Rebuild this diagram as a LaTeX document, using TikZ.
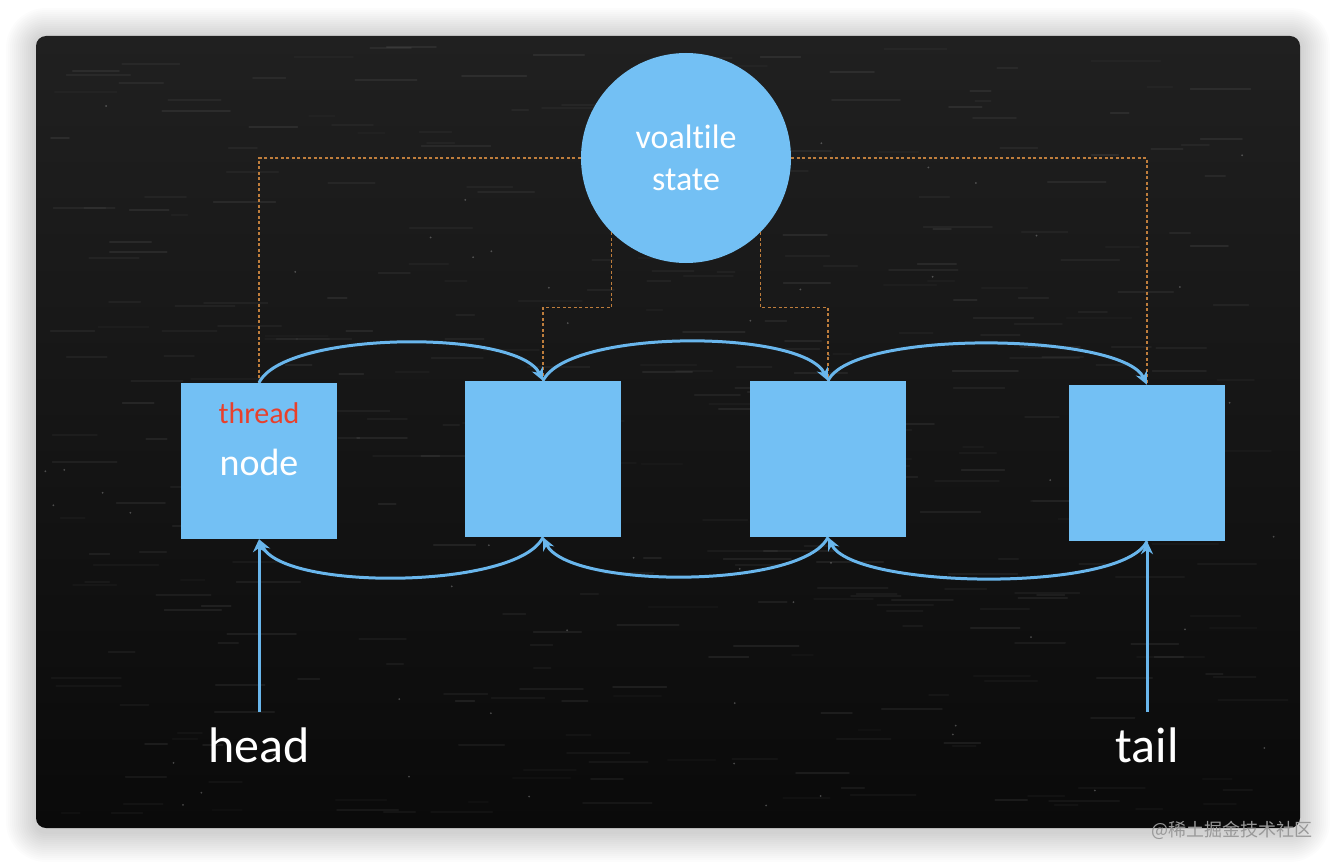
\documentclass[tikz,border=0pt]{standalone}
\usepackage{fontspec}
\setmainfont{Carlito}[Ligatures=NoCommon]
\newfontfamily\cjk{Noto Sans CJK SC}
\usetikzlibrary{arrows.meta}
\definecolor{boxblue}{RGB}{115,192,244}
\definecolor{lineblue}{RGB}{105,182,236}
\definecolor{dashor}{RGB}{190,125,60}
\definecolor{threadred}{RGB}{232,64,44}
\definecolor{paneltop}{RGB}{32,32,32}
\definecolor{panelbot}{RGB}{10,10,10}
\tikzset{
  blk/.style={rectangle, fill=boxblue, minimum width=156pt, minimum height=156pt, inner sep=0pt},
  arr/.style={draw=lineblue, line width=3pt, -{Stealth[length=13pt,width=12pt]}},
  dsh/.style={draw=dashor, line width=1.1pt, dash pattern=on 3pt off 2.5pt},
  lbl/.style={text=white, inner sep=0pt, anchor=base},
}
\begin{document}
\begin{tikzpicture}[x=1pt,y=-1pt]
\useasboundingbox (0,0) rectangle (1336,864);
\fill[white] (0,0) rectangle (1336,864);
% soft shadow
\foreach \i in {2,4,...,30}{
  \fill[black, opacity=0.01, rounded corners=10pt+\i pt] (36-\i,38-\i) rectangle (1300+\i,832+\i);
}
% panel
\shade[top color=paneltop, bottom color=panelbot, rounded corners=10pt] (36,36) rectangle (1300,828);
% chalkboard texture
\pgfmathsetseed{42}
\foreach \k in {1,...,350}{
  \pgfmathsetmacro\tx{44+1180*rnd}
  \pgfmathsetmacro\ty{44+770*rnd}
  \pgfmathsetmacro\tl{15+55*rnd}
  \pgfmathsetmacro\to{0.02+0.05*rnd}
  \draw[white, opacity=\to, line width=2pt, line cap=round] (\tx,\ty) -- ++(\tl,0);
}
\foreach \k in {1,...,60}{
  \pgfmathsetmacro\tx{44+1240*rnd}
  \pgfmathsetmacro\ty{44+770*rnd}
  \fill[white, opacity=0.25] (\tx,\ty) circle (1pt);
}
% circle
\node[circle, fill=boxblue, minimum size=210pt, inner sep=0pt] (vs) at (686,158) {};
\node[lbl, font=\fontsize{34}{40}\selectfont] (vt1) at (686,149) {voaltile};
\node[lbl, font=\fontsize{34}{40}\selectfont] (vt2) at (686,190) {state};
% boxes
\node[blk] (b1) at (259,461) {};
\node[blk] (b2) at (543,459) {};
\node[blk] (b3) at (828,459) {};
\node[blk] (b4) at (1147,463) {};
\node[lbl, text=threadred, font=\fontsize{30}{36}\selectfont] (thr) at (259,423) {thread};
\node[lbl, font=\fontsize{38}{44}\selectfont] (nd) at (259,475) {node};
% dashed links
\draw[dsh] (vs.west) -| (b1.north);
\draw[dsh] (vs.east) -| (b4.north);
\draw[dsh] (vs.225) -- ++(0,75) -| (b2.north);
\draw[dsh] (vs.315) -- ++(0,75) -| (b3.north);
% forward arcs
\draw[arr] (b1.north) .. controls +(25,-52) and +(-25,-52) .. (b2.north);
\draw[arr] (b2.north) .. controls +(25,-52) and +(-25,-52) .. (b3.north);
\draw[arr] (b3.north) .. controls +(25,-52) and +(-25,-52) .. (b4.north);
% backward arcs
\draw[arr] (b2.south) .. controls +(-25,52) and +(25,52) .. (b1.south);
\draw[arr] (b3.south) .. controls +(-25,52) and +(25,52) .. (b2.south);
\draw[arr] (b4.south) .. controls +(-25,52) and +(25,52) .. (b3.south);
% head / tail
\coordinate (hs) at (259,712);
\coordinate (ts) at (1147,712);
\draw[arr] (hs) -- (b1.south);
\draw[arr] (ts) -- (b4.south);
\node[lbl, font=\fontsize{50}{56}\selectfont] (head) at (259,762) {head};
\node[lbl, font=\fontsize{50}{56}\selectfont] (tail) at (1147,762) {tail};
% watermark
\node[inner sep=0pt, text=black!40, font=\cjk\fontsize{18}{20}\selectfont] (wm) at (1232,830) {@稀土掘金技术社区};
\end{tikzpicture}
\end{document}
